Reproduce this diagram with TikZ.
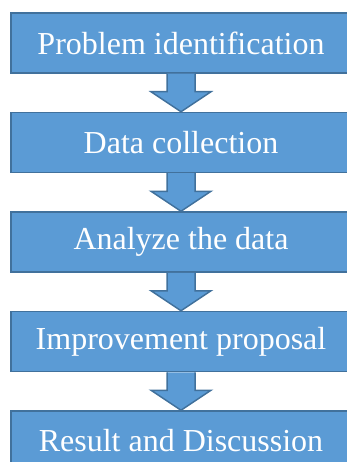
\documentclass[tikz,border=0pt]{standalone}
\usepackage{fontspec}
\setmainfont{Liberation Serif}
\usepackage{xcolor}
\usetikzlibrary{positioning,calc}

\definecolor{stepfill}{HTML}{5B9BD5}
\definecolor{stepline}{HTML}{41719C}

\begin{document}
\begin{tikzpicture}[
    x=1pt, y=1pt,
    node distance=38pt,
    box/.style={rectangle, draw=stepline, line width=1.5pt, fill=stepfill, minimum width=340pt, minimum height=60pt, align=center, text=white, font=\fontsize{32}{36}\selectfont},
    flow/.style={draw=stepline, line width=1.5pt, fill=stepfill, line join=miter}
]
\useasboundingbox (0,0) rectangle (347,-462);
% Main vertical flow
\node[box] (problem) at (181,-43) {Problem identification};
\node[box, below=of problem] (data) {Data collection};
\node[box, below=of data] (analyze) {Analyze the data};
\node[box, below=of analyze] (improve) {Improvement proposal};
\node[box, below=of improve] (result) {Result and Discussion};
% Block arrows between the steps
\foreach \a/\b in {problem/data, data/analyze, analyze/improve, improve/result} {
  \draw[flow] ($(\a.south)+(-14,0)$) |- ($(\b.north)+(-30,20)$) -- (\b.north)
    -- ($(\b.north)+(30,20)$) -| ($(\a.south)+(14,0)$);
}
\end{tikzpicture}
\end{document}
